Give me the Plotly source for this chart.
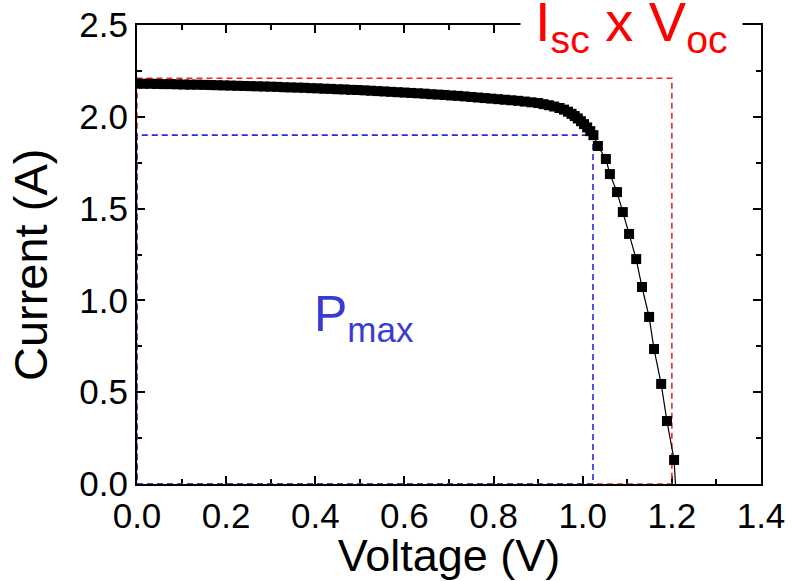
import plotly.graph_objects as go

# Measured I-V curve of the cell
voltage = [
    0.000, 0.015, 0.030, 0.045, 0.060, 0.075, 0.090, 0.105, 0.120, 0.135,
    0.150, 0.165, 0.180, 0.195, 0.210, 0.225, 0.240, 0.255, 0.270, 0.285,
    0.300, 0.315, 0.330, 0.345, 0.360, 0.375, 0.390, 0.405, 0.420, 0.435,
    0.450, 0.465, 0.480, 0.495, 0.510, 0.525, 0.540, 0.555, 0.570, 0.585,
    0.600, 0.615, 0.630, 0.645, 0.660, 0.675, 0.690, 0.705, 0.720, 0.735,
    0.750, 0.765, 0.780, 0.795, 0.810, 0.825, 0.840, 0.855, 0.870, 0.885,
    0.900, 0.912, 0.924, 0.936, 0.948, 0.958, 0.967, 0.975, 0.982, 0.989,
    0.996, 1.003, 1.010, 1.017, 1.024, 1.034, 1.052, 1.061, 1.077, 1.090,
    1.104, 1.120, 1.133, 1.149, 1.160, 1.176, 1.189, 1.205, 1.210,
]
current = [
    2.181, 2.180, 2.180, 2.179, 2.178, 2.178, 2.177, 2.176, 2.175, 2.175,
    2.174, 2.173, 2.172, 2.171, 2.170, 2.169, 2.168, 2.167, 2.166, 2.165,
    2.164, 2.163, 2.161, 2.160, 2.159, 2.158, 2.156, 2.155, 2.153, 2.152,
    2.150, 2.149, 2.147, 2.146, 2.144, 2.142, 2.140, 2.138, 2.136, 2.134,
    2.132, 2.130, 2.128, 2.126, 2.123, 2.121, 2.119, 2.116, 2.114, 2.111,
    2.108, 2.105, 2.102, 2.099, 2.096, 2.093, 2.090, 2.087, 2.083, 2.079,
    2.075, 2.069, 2.063, 2.056, 2.048, 2.039, 2.028, 2.016, 2.004, 1.991,
    1.976, 1.960, 1.942, 1.922, 1.900, 1.841, 1.770, 1.688, 1.590, 1.481,
    1.362, 1.225, 1.073, 0.910, 0.735, 0.545, 0.343, 0.131, -0.080,
]

# Characteristic points
isc = 2.21   # short-circuit current (A)
voc = 1.20   # open-circuit voltage (V)
vmp = 1.023  # voltage at maximum power (V)
imp = 1.90   # current at maximum power (A)

x_ticks = [0.0, 0.2, 0.4, 0.6, 0.8, 1.0, 1.2, 1.4]
y_ticks = [0.0, 0.5, 1.0, 1.5, 2.0, 2.5]

FONT = "Liberation Sans, Arial, sans-serif"
RED = "#f02828"
BLUE = "#2a2ae0"

fig = go.Figure()

# Isc x Voc rectangle
fig.add_trace(go.Scatter(
    x=[0, voc, voc, 0, 0], y=[0, 0, isc, isc, 0],
    mode="lines", line=dict(color=RED, width=1.6, dash="6px,4px"),
    cliponaxis=False, hoverinfo="skip", showlegend=False,
))
# Maximum power rectangle
fig.add_trace(go.Scatter(
    x=[0, vmp, vmp, 0, 0], y=[0, 0, imp, imp, 0],
    mode="lines", line=dict(color=BLUE, width=1.6, dash="6px,4px"),
    cliponaxis=False, hoverinfo="skip", showlegend=False,
))
# I-V data
fig.add_trace(go.Scatter(
    x=voltage, y=current, mode="lines+markers",
    line=dict(color="black", width=1.2),
    marker=dict(symbol="square", size=10, color="black"),
    showlegend=False,
))

axis_common = dict(
    showline=True, linecolor="black", linewidth=2, mirror="ticks",
    ticks="inside", ticklen=8, tickwidth=2, tickcolor="black",
    showgrid=False, zeroline=False, layer="below traces", automargin=False,
    tickfont=dict(family=FONT, size=35, color="black"),
    tickformat=".1f",
)

fig.update_xaxes(
    range=[0, 1.4], tickvals=x_ticks,
    minor=dict(ticks="inside", ticklen=5, tickwidth=2, tickcolor="black", dtick=0.1),
    title=dict(text="Voltage (V)", font=dict(family=FONT, size=45, color="black"), standoff=5),
    **axis_common,
)
fig.update_yaxes(
    range=[0, 2.5], tickvals=y_ticks,
    minor=dict(ticks="inside", ticklen=5, tickwidth=2, tickcolor="black", dtick=0.25),
    **axis_common,
)

# Y-axis title, set slightly below the plot's mid-height
fig.add_annotation(
    x=-0.1715, y=0.477, xref="paper", yref="paper", xanchor="center", yanchor="middle",
    text="Current (A)", textangle=-90, showarrow=False,
    font=dict(family=FONT, size=47, color="black"),
)

fig.add_annotation(
    x=0.393, y=0.727, xref="x", yref="y", xanchor="left", yanchor="bottom",
    text="P<sub>max</sub>", showarrow=False,
    font=dict(family=FONT, size=50, color="#3a3ad6"),
)
fig.add_annotation(
    x=0.86, y=2.22, xref="x", yref="y", xanchor="left", yanchor="bottom",
    text="I<sub>sc</sub> x V<sub>oc</sub>", showarrow=False,
    font=dict(family=FONT, size=56, color="#ff0000"),
    bgcolor="white", borderpad=14,
)

fig.update_layout(
    width=791, height=581,
    margin=dict(l=137, r=30, t=25, b=97),
    paper_bgcolor="white", plot_bgcolor="white",
)

fig.write_html("out.html")
